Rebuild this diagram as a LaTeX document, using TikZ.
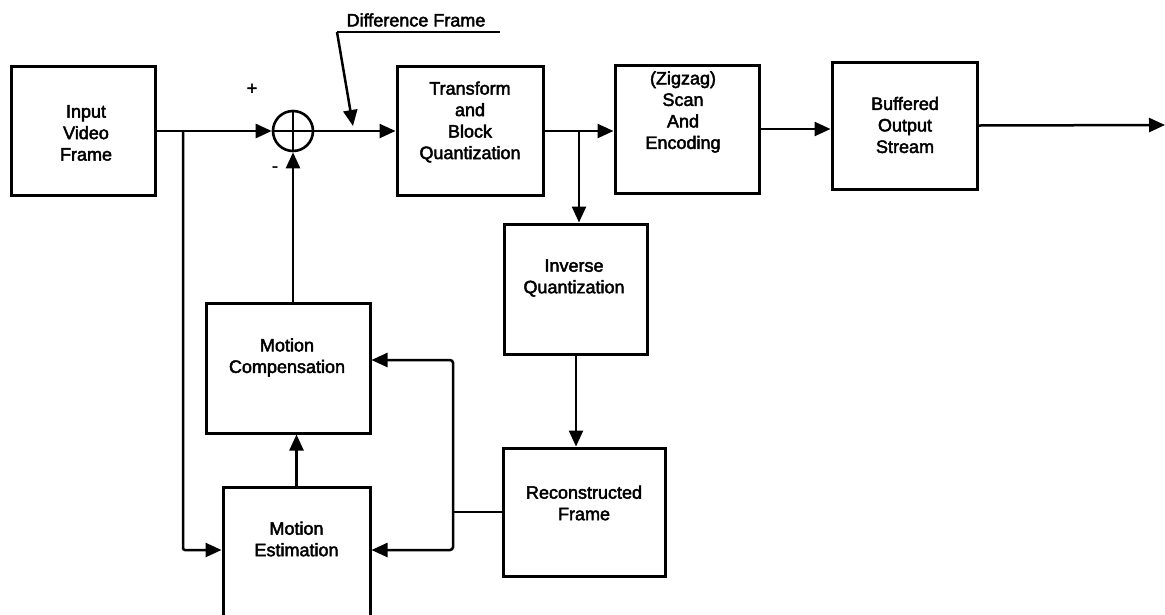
\documentclass[tikz,border=0pt]{standalone}
\usepackage{fontspec}
\setmainfont{Liberation Sans}
\newfontfamily\scanfont{Liberation Sans}[RawFeature={embolden=2.5}]
\usetikzlibrary{arrows.meta}
\begin{document}
\begin{tikzpicture}[x=1pt,y=-1pt,
  box/.style={draw, line width=3pt, inner sep=0pt},
  lbl/.style={align=center, font=\scanfont\fontsize{18}{21.5}\selectfont},
  conn/.style={line width=2.5pt},
  arr/.style={conn, -{Triangle[length=16pt,width=14pt]}}
]
\useasboundingbox (0,0) rectangle (1165,614);
% boxes
\node[box, minimum width=144pt, minimum height=129pt] (in) at (83,131) {};
\node[lbl] (inT) at (86,133) {Input\\Video\\Frame};
\node[draw, circle, line width=2.6pt, minimum size=40pt, inner sep=0pt] (sum) at (293,131) {};
\draw[conn] (sum.north) -- (sum.south);
\draw[conn] (sum.west) -- (sum.east);
\node[box, minimum width=146pt, minimum height=129pt] (tq) at (470,131) {};
\node[lbl] (tqT) at (470,122) {Transform\\and\\Block\\Quantization};
\node[box, minimum width=144pt, minimum height=128pt] (zz) at (687,129) {};
\node[lbl] (zzT) at (683,112) {(Zigzag)\\Scan\\And\\Encoding};
\node[box, minimum width=145pt, minimum height=127pt] (buf) at (904.5,125.5) {};
\node[lbl] (bufT) at (905,125) {Buffered\\Output\\Stream};
\node[box, minimum width=143pt, minimum height=130pt] (iq) at (576,289) {};
\node[lbl] (iqT) at (574,278) {Inverse\\Quantization};
\node[box, minimum width=162pt, minimum height=128pt] (rf) at (584,512) {};
\node[lbl] (rfT) at (584,503) {Reconstructed\\Frame};
\node[box, minimum width=164pt, minimum height=130pt] (mc) at (288,368) {};
\node[lbl] (mcT) at (287,357.5) {Motion\\Compensation};
\node[box, minimum width=147pt, minimum height=134pt] (me) at (296.5,554) {};
\node[lbl] (meT) at (296.5,539) {Motion\\Estimation};
% signs
\node[font=\scanfont\fontsize{18}{18}\selectfont, inner sep=0pt] (plus) at (252,89) {+};
\node[font=\scanfont\fontsize{18}{18}\selectfont, inner sep=0pt] (minus) at (275,169) {-};
% difference frame label
\node[font=\scanfont\fontsize{18}{18}\selectfont, inner sep=0pt] (df) at (416,20) {Difference Frame};
\coordinate (dfa) at (337,32);
\coordinate (dfb) at (500,32);
\coordinate (dft) at (353,126);
\draw[conn] (dfb) -- (dfa);
\draw[arr] (dfa) -- (dft);
% coordinates
\coordinate (b1) at (183,131);
\coordinate (c3) at (183,550);
\coordinate (b2) at (579,131);
\coordinate (j) at (453,512);
\coordinate (c1) at (453,360);
\coordinate (c2) at (453,550);
\coordinate (out) at (1165,125);
% connectors
\draw[arr] (in.east) -- (sum.west);
\draw[arr, rounded corners=2pt] (b1) -- (c3) -- (c3 -| me.west);
\draw[arr] (sum.east) -- (tq.west);
\draw[arr] (tq.east) -- (tq.east -| zz.west);
\draw[arr] (b2) -- (b2 |- iq.north);
\draw[arr] (zz.east) -- (zz.east -| buf.west);
\draw[arr] (buf.east) -- (out);
\draw[arr] (iq.south) -- (iq.south |- rf.north);
\draw[conn] (rf.west) -- (j);
\draw[arr, rounded corners=3pt] (j) -- (c1) -- (c1 -| mc.east);
\draw[arr, rounded corners=3pt] (j) -- (c2) -- (c2 -| me.east);
\draw[arr] (me.north) -- (me.north |- mc.south);
\draw[arr] (mc.north -| sum.south) -- (sum.south);
\end{tikzpicture}
\end{document}
